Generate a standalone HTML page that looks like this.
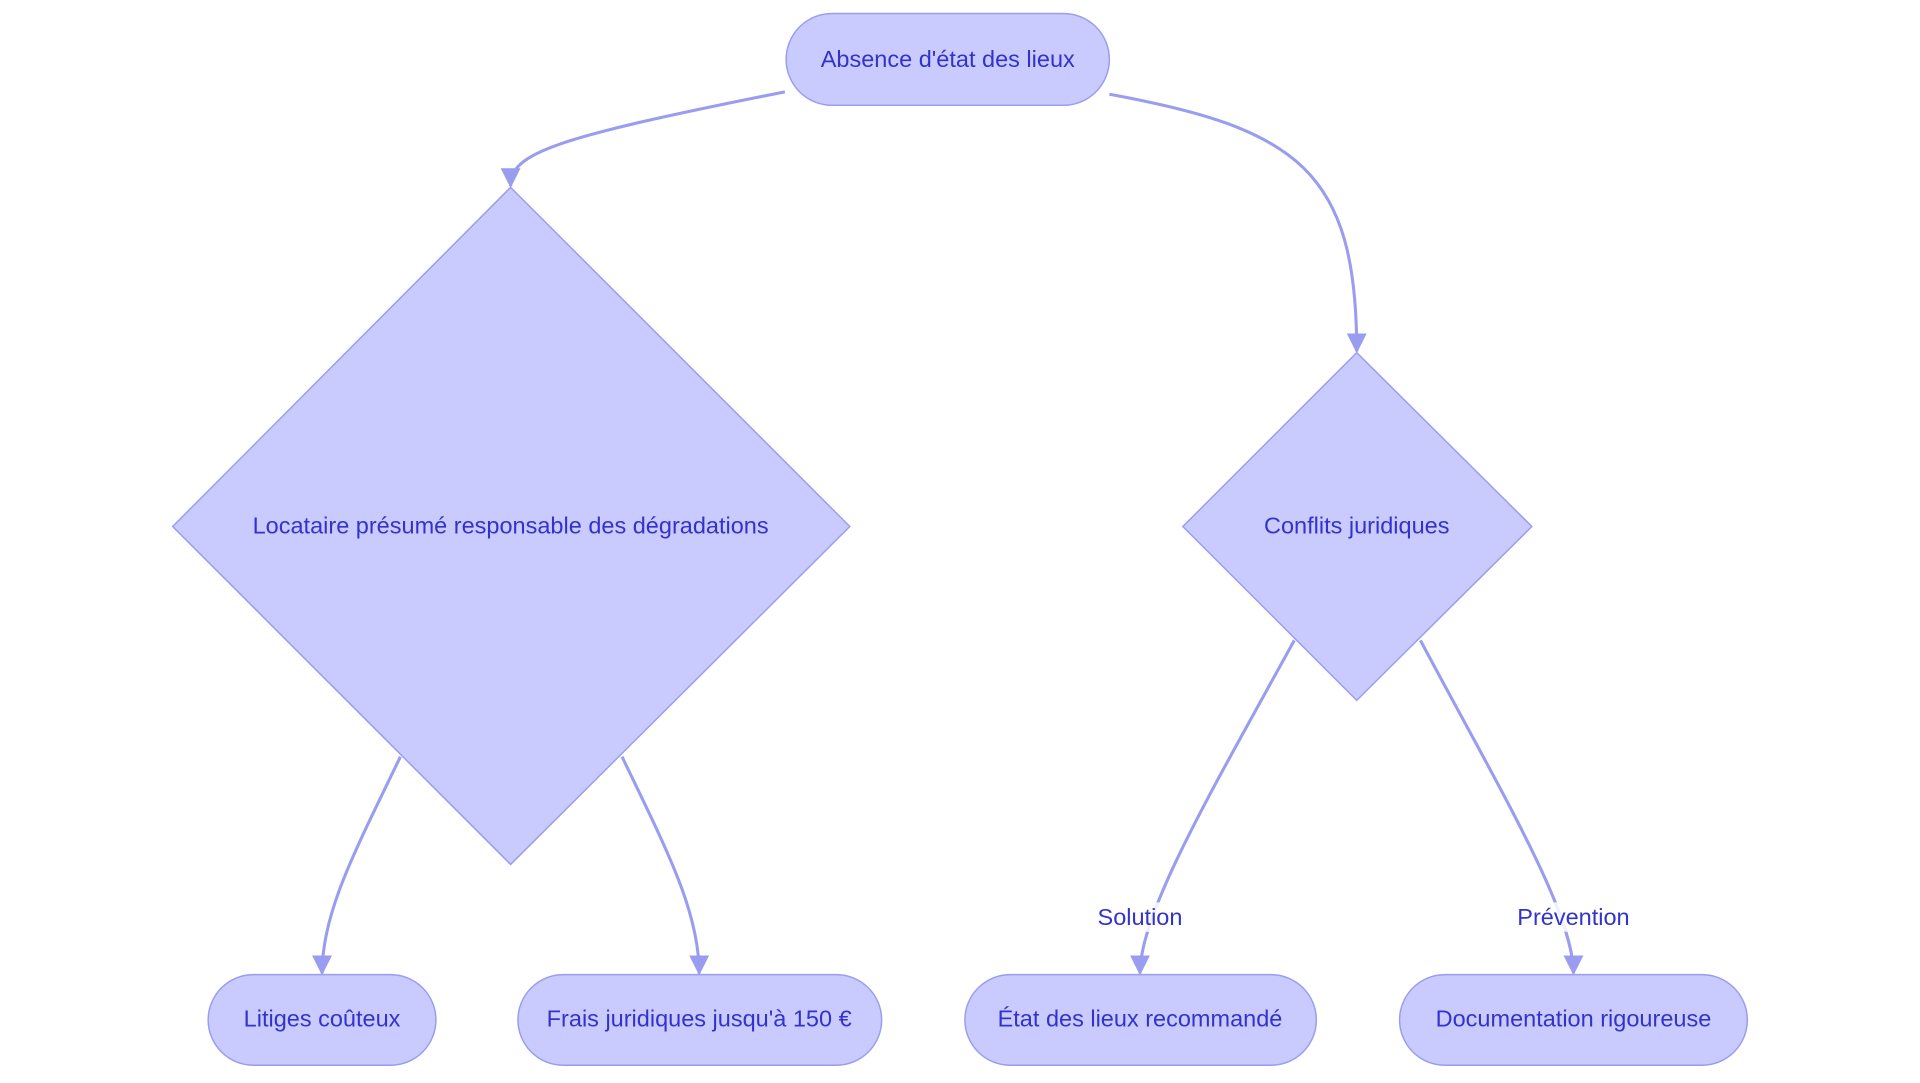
<!DOCTYPE html>
<html><head><meta charset="utf-8"><style>
html,body{margin:0;padding:0;background:#fff;width:1920px;height:1083px;overflow:hidden}
svg{display:block}
text{font-family:"Liberation Sans",sans-serif;font-size:19.2px;fill:#3333cc;text-anchor:middle;dominant-baseline:central}
.n{fill:#c9cafe;stroke:#9a9cf0;stroke-width:1.2}
.e{fill:none;stroke:#9a9cf0;stroke-width:2.5}
</style></head><body>
<svg width="1920" height="1083" viewBox="0 0 1568 884.5" preserveAspectRatio="none">
<defs><marker id="a" viewBox="0 0 10 10" refX="9" refY="5" markerWidth="6.5" markerHeight="6.5" orient="auto" markerUnits="strokeWidth"><path d="M0,0L10,5L0,10z" fill="#9a9cf0"/></marker></defs>
<path class="e" marker-end="url(#a)" d="M641,75 C450,113 417,125 417,152"/>
<path class="e" marker-end="url(#a)" d="M906,77 C1060,105 1108,140 1108,287"/>
<path class="e" marker-end="url(#a)" d="M327,618 C290,695 263,745 263,795"/>
<path class="e" marker-end="url(#a)" d="M508,618 C545,695 571,745 571,795"/>
<path class="e" marker-end="url(#a)" d="M1057,523 C990,645 931,745 931,795"/>
<path class="e" marker-end="url(#a)" d="M1160,523 C1225,645 1285,745 1285,795"/>
<rect class="n" x="642" y="11" width="264" height="75" rx="37.5"/>
<text x="774" y="48">Absence d'état des lieux</text>
<polygon class="n" points="417,153 694,430 417,706 141,430"/>
<text x="417" y="429">Locataire présumé responsable des dégradations</text>
<polygon class="n" points="1108,288 1251,430 1108,572 966,430"/>
<text x="1108" y="429">Conflits juridiques</text>
<rect class="n" x="170" y="796" width="186" height="74" rx="37"/>
<text x="263" y="832">Litiges coûteux</text>
<rect class="n" x="423" y="796" width="297" height="74" rx="37"/>
<text x="571" y="832">Frais juridiques jusqu'à 150 €</text>
<rect class="n" x="788" y="796" width="287" height="74" rx="37"/>
<text x="931" y="832">État des lieux recommandé</text>
<rect class="n" x="1143" y="796" width="284" height="74" rx="37"/>
<text x="1285" y="832">Documentation rigoureuse</text>
<rect x="893" y="737" width="76" height="24" fill="#fff" opacity="0.85"/>
<text x="931" y="749">Solution</text>
<rect x="1236" y="737" width="98" height="24" fill="#fff" opacity="0.85"/>
<text x="1285" y="749">Prévention</text>
</svg>
</body></html>
